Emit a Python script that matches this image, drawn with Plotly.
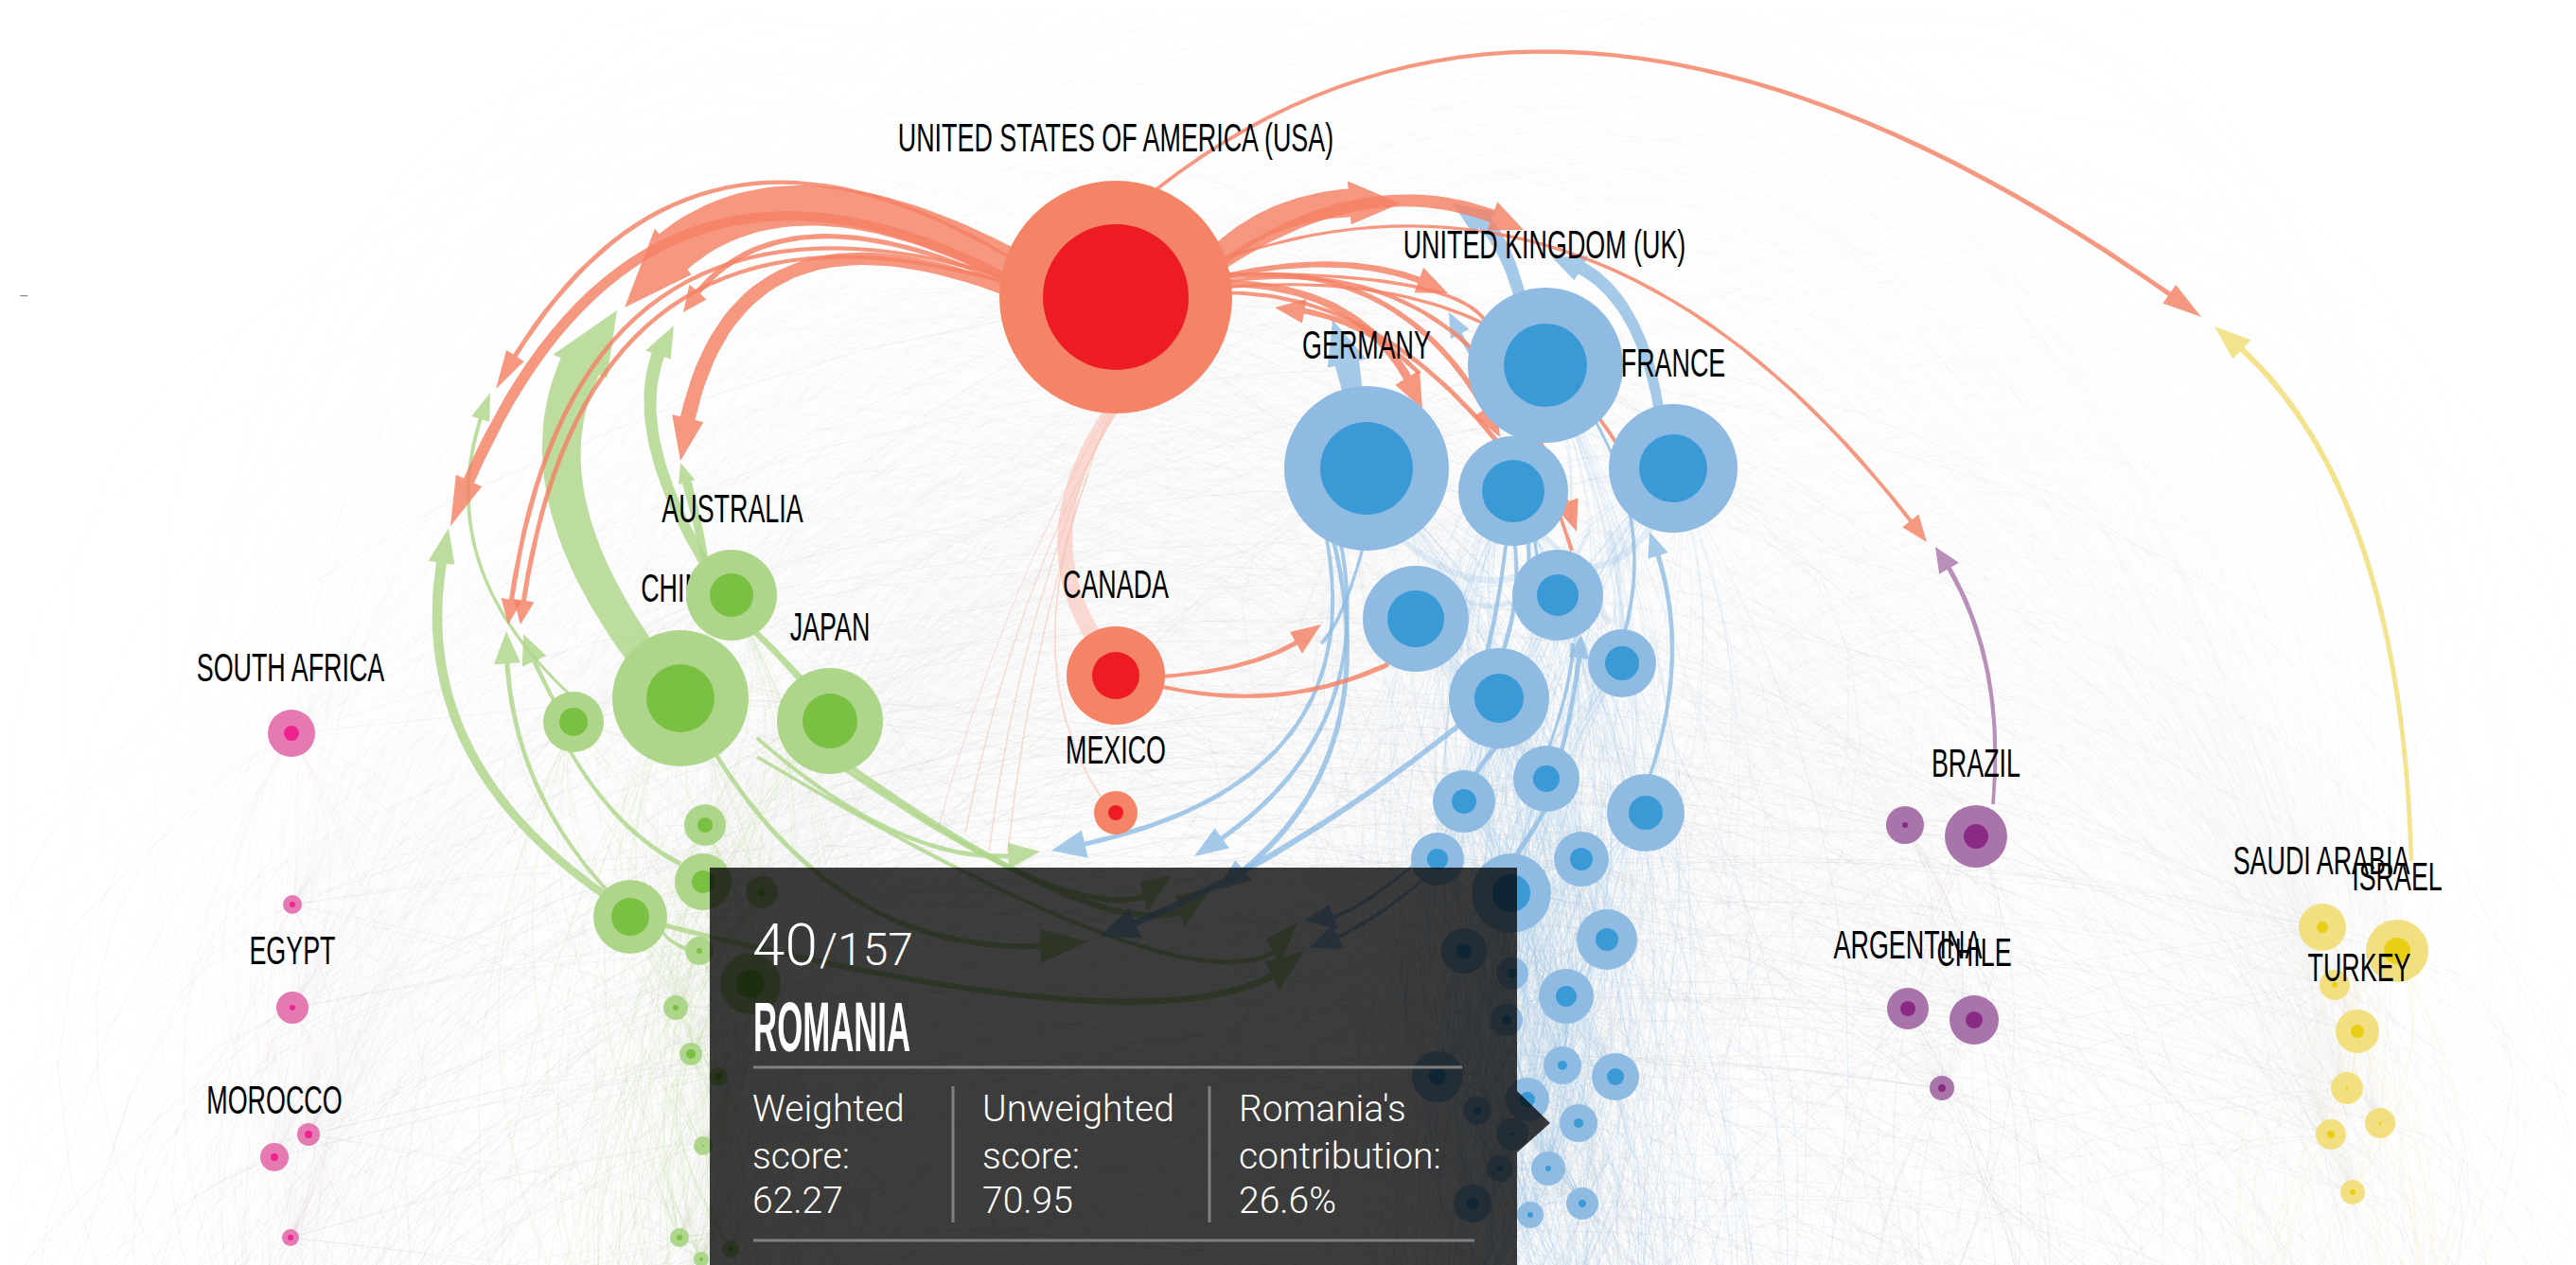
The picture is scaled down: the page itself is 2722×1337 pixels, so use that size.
import numpy as np
import plotly.graph_objects as go

W = 2722
H = 1337
PAGE_MARGIN = 8

# node values: group, x, y, outer radius, inner radius
usa_x = [1179, 1179, 1179]
usa_y = [314, 714, 859]
usa_outer = [123, 52, 23]
usa_inner = [77, 25, 8]

blue_x = [1444, 1633, 1768, 1599, 1496, 1646, 1714, 1584, 1547, 1634, 1739, 1519, 1671, 1597, 1698, 1547, 1598, 1655, 1592, 1519, 1651, 1707, 1614, 1561, 1668, 1598, 1636, 1585, 1556, 1672, 1617]
blue_y = [495, 386, 495, 519, 654, 629, 701, 738, 847, 823, 859, 908, 908, 944, 993, 1005, 1029, 1053, 1078, 1138, 1126, 1138, 1162, 1174, 1187, 1199, 1235, 1235, 1272, 1272, 1284]
blue_outer = [87, 82, 68, 58, 56, 48, 36, 53, 33, 35, 41, 28, 29, 42, 32, 24, 17, 29, 17, 27, 20, 25, 23, 15, 20, 17, 18, 14, 20, 17, 14]
blue_inner = [49, 44, 36, 33, 30, 22, 18, 26, 13, 14, 18, 11, 12, 20, 12, 8, 5, 11, 5, 9, 5, 9, 8, 4, 5, 2, 3, 3, 6, 4, 3]

green_x = [719, 773, 877, 606, 666, 745, 743, 739, 805, 793, 714, 730, 759, 743, 718, 772, 741]
green_y = [738, 629, 762, 763, 969, 872, 932, 1005, 943, 1040, 1065, 1114, 1138, 1211, 1308, 1320, 1331]
green_outer = [72, 48, 56, 32, 39, 22, 30, 15, 17, 32, 13, 12, 10, 10, 10, 9, 8]
green_inner = [36, 23, 29, 15, 20, 8, 12, 3, 4, 15, 3, 5, 4, 1, 3, 3, 2]

pink_x = [308, 309, 309, 326, 290, 307]
pink_y = [775, 956, 1065, 1199, 1223, 1308]
pink_outer = [25, 10, 17, 12, 15, 9]
pink_inner = [8, 3, 3, 4, 4, 3]

purple_x = [2013, 2088, 2016, 2086, 2052]
purple_y = [872, 884, 1066, 1078, 1150]
purple_outer = [20, 33, 22, 26, 13]
purple_inner = [3, 13, 8, 9, 4]

yellow_x = [2454, 2533, 2467, 2491, 2480, 2515, 2463, 2486]
yellow_y = [980, 1005, 1041, 1090, 1150, 1187, 1199, 1260]
yellow_outer = [25, 33, 16, 23, 17, 16, 16, 13]
yellow_inner = [6, 14, 3, 7, 1.5, 1.5, 4, 3]

# rest of the ranking sits below the fold, only its links show
below_blue_x = [1500, 1560, 1620, 1680, 1740, 1800, 1540, 1660]
below_blue_y = [1480, 1560, 1450, 1620, 1500, 1700, 1800, 1900]
below_green_x = [650, 700, 750, 800, 720, 680]
below_green_y = [1480, 1600, 1500, 1700, 1850, 1950]
below_pink_x = [270, 320, 350, 290]
below_pink_y = [1450, 1550, 1700, 1850]
below_purple_x = [1980, 2040, 2100, 2060]
below_purple_y = [1500, 1650, 1550, 1800]
below_yellow_x = [2420, 2470, 2530, 2500]
below_yellow_y = [1480, 1620, 1520, 1800]
far_x = [100, 500, 900, 1300, 1800, 2200, 2650]
far_y = [2300, 2600, 2200, 2800, 2300, 2600, 2300]

labels = ["UNITED STATES OF AMERICA (USA)", "UNITED KINGDOM (UK)", "GERMANY", "FRANCE", "AUSTRALIA",
          "CANADA", "JAPAN", "MEXICO", "SOUTH AFRICA", "EGYPT", "MOROCCO", "BRAZIL", "ARGENTINA",
          "CHILE", "SAUDI ARABIA", "ISRAEL", "TURKEY"]
label_x = [1179, 1632, 1444, 1768, 774, 1179, 877, 1179, 307, 309, 290, 2088, 2016, 2086, 2453, 2533, 2493]
label_y = [150, 263, 369, 388, 542, 622, 667, 797, 710, 1009, 1167, 811, 1003, 1011, 914, 931, 1027]

# flows: start x, y, middle x, y, tip x, y, thickness, arrow size
orange_flows = [
    [1080, 280, 760, 200, 524, 411, 5, 22],
    [1085, 305, 720, 250, 476, 556, 12, 30],
    [1085, 300, 705, 310, 537, 660, 5, 22],
    [1085, 305, 715, 320, 550, 660, 5, 22],
    [1085, 310, 860, 250, 722, 330, 6, 24],
    [1085, 315, 830, 290, 719, 487, 16, 34],
    [1085, 290, 830, 218, 660, 325, 48, 62],
    [1222, 200, 1720, 60, 2326, 335, 5, 24],
    [1280, 278, 1680, 275, 2036, 573, 4, 22],
    [1270, 290, 1358, 228, 1480, 215, 30, 46],
    [1270, 295, 1445, 215, 1610, 243, 14, 32],
    [1280, 300, 1420, 330, 1503, 432, 9, 30],
    [1280, 295, 1460, 320, 1585, 462, 6, 28],
    [1280, 295, 1420, 280, 1530, 310, 7, 28],
    [1280, 290, 1480, 300, 1570, 340, 4, 0],
    [1280, 300, 1520, 340, 1666, 562, 5, 26],
    [1280, 305, 1540, 330, 1707, 467, 4, 0],
    [1280, 310, 1440, 345, 1583, 468, 5, 0],
    [1500, 395, 1430, 345, 1347, 325, 6, 26],
    [1640, 520, 1650, 550, 1661, 582, 4, 0],
    [1205, 716, 1320, 700, 1396, 660, 5, 26],
    [1205, 720, 1340, 735, 1467, 702, 5, 0],
]
light_flows = [
    [1184, 420, 1126, 555, 1160, 680, 18, 0],
    [1150, 500, 1115, 690, 1165, 845, 2, 0],
    [1178, 437, 1085, 640, 1020, 880, 1.5, 0],
    [1175, 437, 1095, 650, 1045, 900, 1.5, 0],
    [1172, 437, 1105, 660, 1065, 900, 1.5, 0],
    [1170, 437, 1070, 640, 990, 880, 1, 0],
]
green_flows = [
    [700, 720, 595, 505, 652, 328, 44, 62],
    [760, 620, 690, 460, 712, 344, 14, 28],
    [750, 620, 735, 545, 719, 489, 10, 18],
    [620, 750, 505, 590, 518, 415, 4, 20],
    [660, 960, 490, 780, 474, 558, 11, 28],
    [660, 960, 565, 825, 535, 667, 5, 28],
    [590, 750, 565, 700, 553, 670, 5, 28],
    [600, 790, 655, 865, 719, 913, 5, 0],
    [700, 985, 710, 995, 725, 1003, 4, 0],
    [752, 790, 925, 963, 1150, 995, 6, 36],
    [860, 790, 1114, 937, 1238, 925, 6, 32],
    [870, 790, 1144, 952, 1280, 938, 7, 34],
    [800, 800, 1205, 1000, 1371, 975, 5, 32],
    [690, 975, 1156, 1058, 1378, 1005, 7, 34],
    [800, 780, 960, 885, 1099, 900, 5, 28],
    [790, 660, 830, 700, 860, 735, 8, 0],
]
blue_flows = [
    [1432, 430, 1420, 370, 1408, 338, 26, 42],
    [1610, 330, 1580, 250, 1535, 215, 16, 34],
    [1755, 445, 1715, 325, 1640, 272, 14, 30],
    [1585, 420, 1555, 375, 1531, 330, 5, 22],
    [1397, 546, 1360, 780, 1111, 899, 5, 30],
    [1415, 565, 1400, 760, 1262, 905, 5, 26],
    [1405, 555, 1410, 780, 1287, 940, 6, 28],
    [1550, 760, 1350, 900, 1162, 990, 7, 34],
    [1510, 900, 1430, 960, 1378, 973, 4, 28],
    [1520, 915, 1450, 970, 1384, 1002, 4, 28],
    [1444, 565, 1420, 640, 1396, 680, 4, 0],
    [1592, 570, 1580, 650, 1565, 710, 5, 0],
    [1600, 570, 1600, 640, 1580, 710, 5, 0],
    [1615, 570, 1615, 620, 1610, 660, 5, 0],
    [1622, 570, 1625, 600, 1628, 630, 4, 0],
    [1640, 830, 1660, 750, 1671, 671, 5, 22],
    [1635, 795, 1655, 730, 1662, 680, 4, 0],
    [1687, 447, 1725, 560, 1715, 675, 4, 0],
    [1740, 830, 1767, 690, 1743, 562, 5, 22],
    [1555, 825, 1572, 800, 1590, 780, 6, 0],
    [1636, 850, 1618, 880, 1595, 915, 6, 0],
]
pale_blue_flows = [
    [1470, 560, 1560, 612, 1640, 590, 8, 0],
    [1650, 590, 1700, 595, 1750, 550, 8, 0],
    [1500, 600, 1570, 640, 1646, 610, 6, 0],
    [1620, 560, 1665, 600, 1700, 660, 7, 0],
    [1680, 560, 1660, 600, 1650, 630, 6, 0],
    [1700, 560, 1710, 610, 1714, 670, 6, 0],
]
purple_flows = [[2106, 850, 2098, 700, 2045, 578, 5, 24]]
yellow_flows = [[2548, 910, 2490, 560, 2340, 345, 6, 28]]


def curve(x0, y0, xm, ym, x1, y1, n=40):
    # quadratic through the middle point
    cx = 2 * xm - (x0 + x1) / 2
    cy = 2 * ym - (y0 + y1) / 2
    t = np.linspace(0, 1, n)
    x = (1 - t) ** 2 * x0 + 2 * t * (1 - t) * cx + t ** 2 * x1
    y = (1 - t) ** 2 * y0 + 2 * t * (1 - t) * cy + t ** 2 * y1
    return x, y


def ribbon(flow):
    x0, y0, xm, ym, x1, y1, w, head = flow
    x, y = curve(x0, y0, xm, ym, x1, y1)
    head_len = head * 1.1
    left = np.hypot(np.diff(x), np.diff(y))[::-1].cumsum()[::-1]
    keep = np.append(left > head_len, head == 0)
    keep[:2] = True
    x, y = x[keep], y[keep]
    dx, dy = np.gradient(x), np.gradient(y)
    norm = np.hypot(dx, dy)
    nx, ny = -dy / norm, dx / norm
    half = w / 2 * np.linspace(0.75, 1, len(x))
    xs = list(x + nx * half)
    ys = list(y + ny * half)
    if head:
        xs += [x[-1] + nx[-1] * head / 2, x1, x[-1] - nx[-1] * head / 2]
        ys += [y[-1] + ny[-1] * head / 2, y1, y[-1] - ny[-1] * head / 2]
    xs += list((x - nx * half)[::-1])
    ys += list((y - ny * half)[::-1])
    return xs, ys


def links(sx, sy, tx, ty, bend, n=14):
    xs, ys = [], []
    for k, (a, b, c, d) in enumerate(zip(sx, sy, tx, ty)):
        if a == c and b == d:
            continue
        px, py = d - b, a - c
        if py > 0 or (py == 0 and k % 2):
            px, py = -px, -py
        if abs(py) < abs(px) and k % 2:
            px = -px
        x, y = curve(a, b, (a + c) / 2 + px * bend, (b + d) / 2 + py * bend, c, d, n)
        xs += list(x) + [None]
        ys += list(y) + [None]
    return xs, ys


fig = go.Figure()

groups = [
    (usa_x, usa_y, usa_outer, usa_inner, "#f58466", "#ed1c24", [], [], "rgba(245,132,102,0.04)"),
    (blue_x, blue_y, blue_outer, blue_inner, "#8fbbe3", "#3a9ad6", below_blue_x, below_blue_y, "rgba(143,187,227,0.11)"),
    (green_x, green_y, green_outer, green_inner, "#aed68a", "#7ac143", below_green_x, below_green_y, "rgba(174,214,138,0.09)"),
    (pink_x, pink_y, pink_outer, pink_inner, "#e579b2", "#ee2390", below_pink_x, below_pink_y, "rgba(229,121,178,0.04)"),
    (purple_x, purple_y, purple_outer, purple_inner, "#a874a9", "#8a2a84", below_purple_x, below_purple_y, "rgba(168,116,169,0.06)"),
    (yellow_x, yellow_y, yellow_outer, yellow_inner, "#f2e080", "#e8cf16", below_yellow_x, below_yellow_y, "rgba(242,224,128,0.09)"),
]

all_x, all_y = [], []
for g in groups:
    all_x += g[0] + g[6]
    all_y += g[1] + g[7]

# faint links between every pair of countries
for i in range(len(all_x)):
    rest = len(all_x) - i - 1
    xs, ys = links([all_x[i]] * rest, [all_y[i]] * rest, all_x[i + 1:], all_y[i + 1:], 0.5)
    fig.add_trace(go.Scatter(x=xs, y=ys, mode="lines", line=dict(color="rgba(150,155,170,0.018)", width=1),
                             hoverinfo="skip", showlegend=False))

# the widest sweeps run to countries far down the ranking
for i in range(len(far_x)):
    xs, ys = links([far_x[i]] * len(all_x), [far_y[i]] * len(all_x), all_x, all_y, 0.32)
    fig.add_trace(go.Scatter(x=xs, y=ys, mode="lines", line=dict(color="rgba(150,155,170,0.09)", width=1),
                             hoverinfo="skip", showlegend=False))

# links inside a region are tinted
for g in groups:
    gx = g[0] + g[6]
    gy = g[1] + g[7]
    for i in range(len(gx)):
        xs, ys = links([gx[i]] * len(gx), [gy[i]] * len(gx), gx, gy, 0.14)
        fig.add_trace(go.Scatter(x=xs, y=ys, mode="lines", line=dict(color=g[8], width=1),
                                 hoverinfo="skip", showlegend=False))

flow_sets = [
    (light_flows, "rgba(248,190,175,0.55)"),
    (pale_blue_flows, "rgba(143,187,227,0.22)"),
    (green_flows, "rgba(174,214,138,0.82)"),
    (blue_flows, "rgba(143,187,227,0.8)"),
    (orange_flows, "rgba(244,128,100,0.82)"),
    (purple_flows, "rgba(168,116,169,0.8)"),
    (yellow_flows, "rgba(242,224,128,0.9)"),
]
for flows, color in flow_sets:
    for flow in flows:
        xs, ys = ribbon(flow)
        fig.add_trace(go.Scatter(x=xs, y=ys, mode="lines", fill="toself", fillcolor=color,
                                 line=dict(width=0), hoverinfo="skip", showlegend=False))

label_font = dict(family="Liberation Sans, sans-serif", size=42, color="#000000")

# China's name sits behind the Australia circle
fig.add_trace(go.Scatter(x=[719], y=[626], mode="text", text=["CHINA"], textfont=label_font,
                         hoverinfo="skip", showlegend=False))

for g in groups:
    fig.add_trace(go.Scatter(x=g[0], y=g[1], mode="markers",
                             marker=dict(size=[2 * r for r in g[2]], sizemode="diameter", color=g[4], opacity=1, line=dict(width=0)),
                             hoverinfo="skip", showlegend=False))
    fig.add_trace(go.Scatter(x=g[0], y=g[1], mode="markers",
                             marker=dict(size=[2 * r for r in g[3]], sizemode="diameter", color=g[5], opacity=1, line=dict(width=0)),
                             hoverinfo="skip", showlegend=False))

fig.add_trace(go.Scatter(x=label_x, y=label_y, mode="text", text=labels, textfont=label_font,
                         hoverinfo="skip", showlegend=False))

panel = "rgba(0,0,0,0.76)"
rule = dict(color="#808080", width=3)
fig.update_layout(
    width=W - PAGE_MARGIN,
    height=H - PAGE_MARGIN,
    margin=dict(l=0, r=0, t=0, b=0),
    paper_bgcolor="white",
    plot_bgcolor="white",
    showlegend=False,
    xaxis=dict(range=[PAGE_MARGIN, W], visible=False, fixedrange=True),
    yaxis=dict(range=[H, PAGE_MARGIN], visible=False, fixedrange=True),
    shapes=[
        dict(type="rect", x0=750, x1=1603, y0=917, y1=H, fillcolor=panel, line=dict(width=0), layer="above"),
        dict(type="path", path="M 1603 1153 L 1638 1187 L 1603 1218 Z", fillcolor=panel, line=dict(width=0), layer="above"),
        dict(type="line", x0=796, x1=1545, y0=1128, y1=1128, line=rule, layer="above"),
        dict(type="line", x0=796, x1=1558, y0=1311, y1=1311, line=rule, layer="above"),
        dict(type="line", x0=1007, x1=1007, y0=1148, y1=1292, line=rule, layer="above"),
        dict(type="line", x0=1278, x1=1278, y0=1148, y1=1292, line=rule, layer="above"),
    ],
)

soft = dict(family="Roboto, sans-serif", size=39, color="#ffffff", weight=300)


def note(x, y, text, font):
    fig.add_annotation(x=x, y=y, text=text, showarrow=False, xanchor="left", yanchor="middle", font=font)


note(793, 998, "40", dict(soft, size=62))
note(864, 1003, "/157", dict(soft, size=48))
note(794, 1085, "<b>ROMANIA</b>", dict(family="Liberation Sans, sans-serif", size=74, color="#ffffff"))
columns = [
    (793, ["Weighted", "score:", "62.27"]),
    (1036, ["Unweighted", "score:", "70.95"]),
    (1307, ["Romania's", "contribution:", "26.6%"]),
]
for col_x, rows in columns:
    for row_y, row in zip([1172, 1222, 1269], rows):
        note(col_x, row_y, row, soft)

note(18, 313, "–", dict(family="Roboto, sans-serif", size=16, color="#888888"))

# no condensed face is installed, so the labels get squeezed sideways
squeeze = """
function squeeze(el, s, anchorLeft) {
  var b = el.getBBox();
  var a = anchorLeft ? b.x : b.x + b.width / 2;
  var old = el.getAttribute('transform') || '';
  el.setAttribute('transform', old + ' translate(' + a + ',0) scale(' + s + ',1) translate(' + (-a) + ',0)');
}
document.querySelectorAll('.textpoint text').forEach(function (el) { squeeze(el, 0.64, false); });
document.querySelectorAll('.annotation-text').forEach(function (el) {
  if (el.textContent === 'ROMANIA') { squeeze(el, 0.47, true); }
});
"""

fig.write_html("out.html", post_script=squeeze)
